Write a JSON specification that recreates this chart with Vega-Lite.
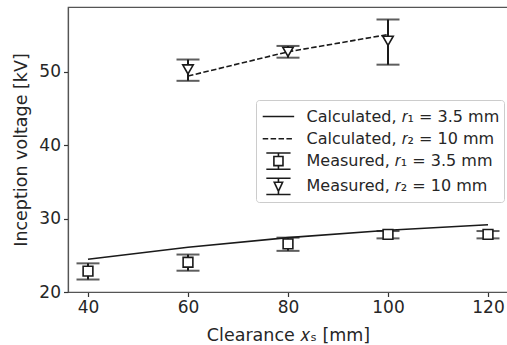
{
  "$schema": "https://vega.github.io/schema/vega-lite/v6.json",
  "width": 440,
  "height": 285,
  "autosize": {"type": "none"},
  "padding": {"left": 68, "top": 7, "right": 0, "bottom": 53},
  "background": "white",
  "datasets": {
    "calc": [
      {"x": 40, "v": 24.45, "series": "Calculated, 𝑟₁ = 3.5 mm"},
      {"x": 60, "v": 26.1, "series": "Calculated, 𝑟₁ = 3.5 mm"},
      {"x": 80, "v": 27.4, "series": "Calculated, 𝑟₁ = 3.5 mm"},
      {"x": 100, "v": 28.4, "series": "Calculated, 𝑟₁ = 3.5 mm"},
      {"x": 120, "v": 29.15, "series": "Calculated, 𝑟₁ = 3.5 mm"},
      {"x": 60, "v": 49.4, "series": "Calculated, 𝑟₂ = 10 mm"},
      {"x": 80, "v": 52.7, "series": "Calculated, 𝑟₂ = 10 mm"},
      {"x": 100, "v": 55.05, "series": "Calculated, 𝑟₂ = 10 mm"}
    ],
    "meas": [
      {"x": 40, "v": 22.85, "lo": 21.7, "hi": 23.9, "series": "Measured, 𝑟₁ = 3.5 mm"},
      {"x": 60, "v": 24.05, "lo": 22.9, "hi": 25.1, "series": "Measured, 𝑟₁ = 3.5 mm"},
      {"x": 80, "v": 26.55, "lo": 25.6, "hi": 27.4, "series": "Measured, 𝑟₁ = 3.5 mm"},
      {"x": 100, "v": 27.85, "lo": 27.3, "hi": 28.3, "series": "Measured, 𝑟₁ = 3.5 mm"},
      {"x": 120, "v": 27.85, "lo": 27.3, "hi": 28.3, "series": "Measured, 𝑟₁ = 3.5 mm"},
      {"x": 60, "v": 50.3, "lo": 48.75, "hi": 51.65, "series": "Measured, 𝑟₂ = 10 mm"},
      {"x": 80, "v": 52.7, "lo": 51.9, "hi": 53.5, "series": "Measured, 𝑟₂ = 10 mm"},
      {"x": 100, "v": 54.2, "lo": 50.95, "hi": 57.1, "series": "Measured, 𝑟₂ = 10 mm"}
    ]
  },
  "layer": [
    {
      "data": {"name": "meas"},
      "mark": {"type": "errorbar", "ticks": {"size": 23}, "thickness": 2},
      "encoding": {
        "x": {"field": "x", "type": "quantitative", "scale": {"domain": [36, 124], "nice": false, "zero": false},
              "axis": {"values": [40, 60, 80, 100, 120], "title": "Clearance 𝑥ₛ [mm]"}},
        "y": {"field": "lo", "type": "quantitative", "scale": {"domain": [20, 58.8], "nice": false, "zero": false},
              "axis": {"values": [20, 30, 40, 50], "title": "Inception voltage [kV]"}},
        "y2": {"field": "hi"},
        "color": {
          "field": "series", "type": "nominal",
          "scale": {"domain": ["Calculated, 𝑟₁ = 3.5 mm", "Calculated, 𝑟₂ = 10 mm", "Measured, 𝑟₁ = 3.5 mm", "Measured, 𝑟₂ = 10 mm"], "range": ["#1a1a1a", "#1a1a1a", "#1a1a1a", "#1a1a1a"]},
          "legend": {
            "title": null,
            "orient": "none",
            "legendX": 188,
            "legendY": 93,
            "encode": {
              "symbols": {
                "update": {
                  "shape": {"signal": "datum.index < 2 ? 'M-0.84,0H1.86' : datum.index == 2 ? 'M-0.53,-0.7H1.55M0.51,-0.7V-0.39M0.12,-0.39H0.9V0.39H0.12ZM0.51,0.39V0.7M-0.53,0.7H1.55' : 'M-0.53,-0.7H1.55M0.51,-0.7V-0.36M0.15,-0.36H0.87L0.51,0.42ZM0.51,0.42V0.7M-0.53,0.7H1.55'"},
                  "strokeDash": {"signal": "datum.index == 1 ? [5.5, 2.4] : [1, 0]"},
                  "fill": {"value": "white"},
                  "fillOpacity": {"value": 0},
                  "stroke": {"value": "#1a1a1a"},
                  "strokeWidth": {"value": 1.6}
                }
              }
            }
          }
        }
      }
    },
    {
      "data": {"name": "calc"},
      "transform": [{"filter": {"field": "series", "equal": "Calculated, 𝑟₁ = 3.5 mm"}}],
      "mark": {"type": "line", "strokeWidth": 1.6},
      "encoding": {
        "x": {"field": "x", "type": "quantitative"},
        "y": {"field": "v", "type": "quantitative"},
        "color": {"field": "series", "type": "nominal"}
      }
    },
    {
      "data": {"name": "calc"},
      "transform": [{"filter": {"field": "series", "equal": "Calculated, 𝑟₂ = 10 mm"}}],
      "mark": {"type": "line", "strokeWidth": 1.6, "strokeDash": [5.5, 2.4]},
      "encoding": {
        "x": {"field": "x", "type": "quantitative"},
        "y": {"field": "v", "type": "quantitative"},
        "color": {"field": "series", "type": "nominal"}
      }
    },
    {
      "data": {"name": "meas"},
      "transform": [{"filter": {"field": "series", "equal": "Measured, 𝑟₁ = 3.5 mm"}}],
      "mark": {"type": "point", "shape": "square", "size": 95, "filled": false, "fill": "white", "fillOpacity": 1, "strokeWidth": 1.6, "opacity": 1},
      "encoding": {
        "x": {"field": "x", "type": "quantitative"},
        "y": {"field": "v", "type": "quantitative"},
        "color": {"field": "series", "type": "nominal"}
      }
    },
    {
      "data": {"name": "meas"},
      "transform": [{"filter": {"field": "series", "equal": "Measured, 𝑟₂ = 10 mm"}}],
      "mark": {"type": "point", "shape": "triangle-down", "size": 110, "filled": false, "fill": "white", "fillOpacity": 1, "strokeWidth": 1.6, "opacity": 1},
      "encoding": {
        "x": {"field": "x", "type": "quantitative"},
        "y": {"field": "v", "type": "quantitative"},
        "color": {"field": "series", "type": "nominal"}
      }
    }
  ],
  "config": {
    "font": "DejaVu Sans",
    "view": {"stroke": "#555", "strokeWidth": 1.2},
    "axis": {
      "grid": false,
      "domainColor": "#555",
      "domainWidth": 1.2,
      "tickColor": "#333",
      "tickSize": 4.5,
      "tickWidth": 1.2,
      "labelFont": "DejaVu Sans",
      "labelFontSize": 17,
      "labelColor": "#262626",
      "labelPadding": 3,
      "titleFont": "DejaVu Sans",
      "titleFontSize": 17.5,
      "titleFontWeight": "normal",
      "titleColor": "#262626"
    },
    "axisX": {"titlePadding": 11, "labelFlush": false},
    "axisY": {"titlePadding": 8, "labelFlush": false},
    "legend": {
      "labelFont": "DejaVu Sans",
      "labelFontSize": 16,
      "labelColor": "#262626",
      "labelLimit": 0,
      "symbolSize": 543,
      "symbolStrokeWidth": 1.6,
      "fillColor": "rgba(255,255,255,0.85)",
      "strokeColor": "#cccccc",
      "cornerRadius": 3,
      "padding": 4,
      "rowPadding": 1.3,
      "labelOffset": 21.5
    }
  }
}
